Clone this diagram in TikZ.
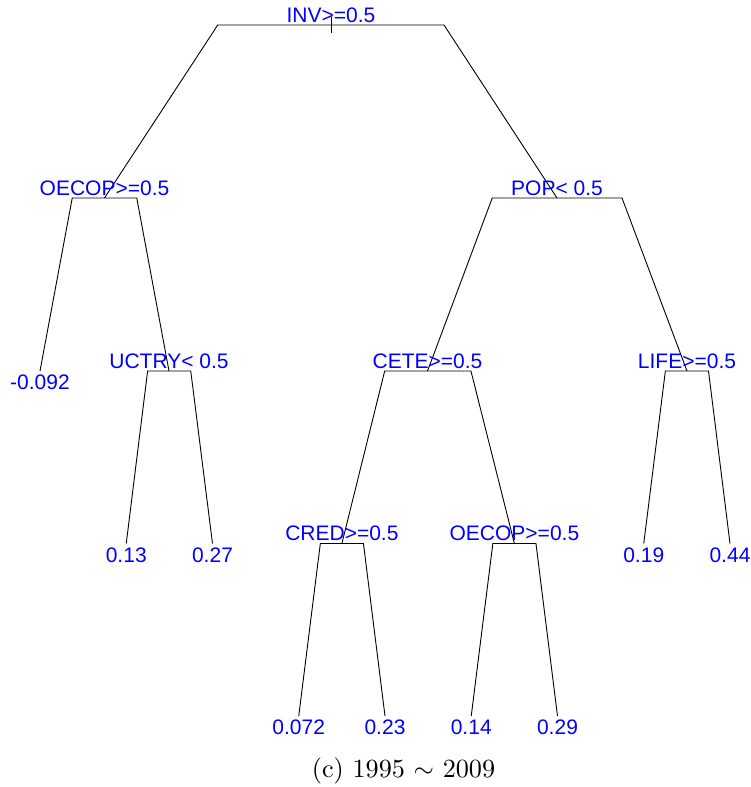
\documentclass[tikz,border=0pt]{standalone}
\usepackage{fontspec}
\usepackage{graphicx}
\usetikzlibrary{calc}
\newfontfamily\treefont{Liberation Sans}

% split node P with children L and R: bar halfway towards each child, then a slanted branch
\newcommand{\splitbranches}[3]{%
  \path let \p1=(#1), \p2=(#2), \p3=(#3) in
    coordinate (#1-l) at ({(\x1+\x2)/2},\y1)
    coordinate (#1-r) at ({(\x1+\x3)/2},\y1);
  \draw[branch] (#2) -- (#1-l) -- (#1-r) -- (#3);
}

\begin{document}
\begin{tikzpicture}[x=1pt,y=-1pt,
  treetext/.style={font=\treefont\fontsize{21}{21}\selectfont, text={rgb,255:red,0;green,0;blue,255}, anchor=base, inner sep=0pt},
  splitlabel/.style={treetext, yshift=3pt},
  leaflabel/.style={treetext, yshift=-18.5pt},
  branch/.style={line width=0.9pt, black, line join=miter}]
\useasboundingbox (0,0) rectangle (751,787);

% node positions
\coordinate (inv)    at (331,25);
\coordinate (oecopA) at (104.5,198);
\coordinate (pop)    at (557,198);
\coordinate (lfA)    at (40,371);
\coordinate (uctry)  at (169,371);
\coordinate (cete)   at (427.5,371);
\coordinate (life)   at (687,371);
\coordinate (lfB)    at (126.25,543.5);
\coordinate (lfC)    at (212.5,543.5);
\coordinate (cred)   at (341.9,543.5);
\coordinate (oecopB) at (514.4,543.5);
\coordinate (lfH)    at (643.75,543.5);
\coordinate (lfI)    at (730,543.5);
\coordinate (lfD)    at (298.75,716);
\coordinate (lfE)    at (385,716);
\coordinate (lfF)    at (471.25,716);
\coordinate (lfG)    at (557.5,716);

% branches
\draw[branch] ([yshift=8pt]inv) -- ([yshift=-8pt]inv);
\splitbranches{inv}{oecopA}{pop}
\splitbranches{oecopA}{lfA}{uctry}
\splitbranches{uctry}{lfB}{lfC}
\splitbranches{pop}{cete}{life}
\splitbranches{cete}{cred}{oecopB}
\splitbranches{cred}{lfD}{lfE}
\splitbranches{oecopB}{lfF}{lfG}
\splitbranches{life}{lfH}{lfI}

% split labels
\node[splitlabel] (t-inv)    at (inv)    {INV>=0.5};
\node[splitlabel] (t-oecopA) at (oecopA) {OECOP>=0.5};
\node[splitlabel] (t-pop)    at (pop)    {POP< 0.5};
\node[splitlabel] (t-uctry)  at (uctry)  {UCTRY< 0.5};
\node[splitlabel] (t-cete)   at (cete)   {CETE>=0.5};
\node[splitlabel] (t-life)   at (life)   {LIFE>=0.5};
\node[splitlabel] (t-cred)   at (cred)   {CRED>=0.5};
\node[splitlabel] (t-oecopB) at (oecopB) {OECOP>=0.5};

% leaf values
\node[leaflabel] (v-A) at (lfA) {-0.092};
\node[leaflabel] (v-B) at (lfB) {0.13};
\node[leaflabel] (v-C) at (lfC) {0.27};
\node[leaflabel] (v-D) at (lfD) {0.072};
\node[leaflabel] (v-E) at (lfE) {0.23};
\node[leaflabel] (v-F) at (lfF) {0.14};
\node[leaflabel] (v-G) at (lfG) {0.29};
\node[leaflabel] (v-H) at (lfH) {0.19};
\node[leaflabel] (v-I) at (lfI) {0.44};

% caption, set at 10pt and enlarged
\node[anchor=base, inner sep=0pt] (caption) at (403.5,777)
  {\scalebox{2.62}{\fontsize{10}{12}\selectfont (c) 1995 $\sim$ 2009}};
\end{tikzpicture}
\end{document}
